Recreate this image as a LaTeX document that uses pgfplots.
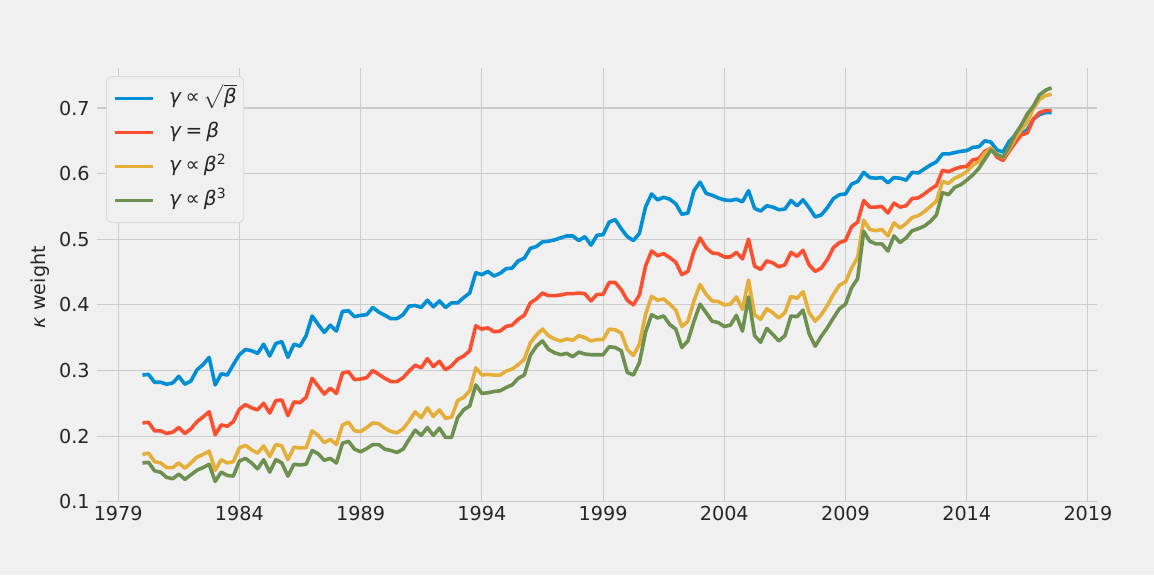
\documentclass[border=0pt]{standalone}
\usepackage{fontspec}
\setmainfont{DejaVu Sans}
\usepackage{pgfplots}
\usepackage{pgfplotstable}
\pgfplotsset{compat=1.18}
\definecolor{bgc}{HTML}{F0F0F0}
\definecolor{gridc}{HTML}{CBCBCB}
\definecolor{legc}{HTML}{DADADA}
\definecolor{cblue}{HTML}{008FD5}
\definecolor{cred}{HTML}{FC4F30}
\definecolor{cyel}{HTML}{E5AE38}
\definecolor{cgrn}{HTML}{6D904F}
\newcommand{\lsp}{\hspace{0.2em}}

\pgfplotstableread{
year B R Y G
1980.00 0.293 0.220 0.172 0.159
1980.25 0.294 0.221 0.174 0.160
1980.50 0.282 0.208 0.161 0.147
1980.75 0.282 0.208 0.159 0.145
1981.00 0.279 0.204 0.152 0.137
1981.25 0.281 0.206 0.152 0.135
1981.50 0.291 0.213 0.159 0.142
1981.75 0.279 0.204 0.151 0.134
1982.00 0.284 0.211 0.159 0.141
1982.25 0.301 0.222 0.168 0.148
1982.50 0.309 0.229 0.172 0.152
1982.75 0.320 0.237 0.177 0.157
1983.00 0.278 0.202 0.148 0.131
1983.25 0.295 0.217 0.164 0.145
1983.50 0.293 0.215 0.159 0.140
1983.75 0.309 0.222 0.161 0.139
1984.00 0.324 0.241 0.182 0.162
1984.25 0.332 0.248 0.186 0.166
1984.50 0.330 0.243 0.179 0.159
1984.75 0.326 0.240 0.174 0.150
1985.00 0.340 0.250 0.185 0.164
1985.25 0.322 0.235 0.169 0.145
1985.50 0.341 0.254 0.187 0.164
1985.75 0.344 0.255 0.185 0.159
1986.00 0.320 0.231 0.164 0.139
1986.25 0.340 0.252 0.183 0.157
1986.50 0.337 0.251 0.182 0.156
1986.75 0.353 0.259 0.182 0.157
1987.00 0.383 0.288 0.208 0.178
1987.25 0.370 0.276 0.201 0.173
1987.50 0.358 0.264 0.190 0.163
1987.75 0.369 0.273 0.195 0.166
1988.00 0.360 0.265 0.187 0.159
1988.25 0.390 0.296 0.217 0.189
1988.50 0.391 0.298 0.221 0.192
1988.75 0.382 0.286 0.208 0.180
1989.00 0.384 0.287 0.207 0.176
1989.25 0.385 0.289 0.213 0.181
1989.50 0.396 0.300 0.220 0.187
1989.75 0.389 0.294 0.219 0.187
1990.00 0.384 0.288 0.212 0.180
1990.25 0.379 0.283 0.207 0.178
1990.50 0.379 0.283 0.205 0.175
1990.75 0.385 0.289 0.211 0.180
1991.00 0.398 0.299 0.223 0.195
1991.25 0.399 0.308 0.237 0.209
1991.50 0.396 0.304 0.228 0.201
1991.75 0.407 0.318 0.243 0.213
1992.00 0.397 0.306 0.230 0.201
1992.25 0.406 0.314 0.240 0.212
1992.50 0.396 0.301 0.227 0.198
1992.75 0.403 0.307 0.229 0.198
1993.00 0.403 0.317 0.254 0.228
1993.25 0.411 0.322 0.259 0.240
1993.50 0.418 0.330 0.269 0.246
1993.75 0.449 0.368 0.304 0.278
1994.00 0.446 0.363 0.293 0.265
1994.25 0.451 0.365 0.294 0.266
1994.50 0.444 0.359 0.293 0.268
1994.75 0.448 0.360 0.293 0.269
1995.00 0.455 0.367 0.299 0.274
1995.25 0.456 0.369 0.302 0.278
1995.50 0.467 0.378 0.309 0.288
1995.75 0.471 0.384 0.317 0.293
1996.00 0.486 0.403 0.342 0.323
1996.25 0.489 0.409 0.354 0.337
1996.50 0.496 0.418 0.363 0.345
1996.75 0.497 0.414 0.353 0.332
1997.00 0.499 0.414 0.348 0.327
1997.25 0.502 0.415 0.345 0.324
1997.50 0.505 0.417 0.348 0.326
1997.75 0.505 0.417 0.346 0.321
1998.00 0.498 0.418 0.353 0.328
1998.25 0.504 0.417 0.350 0.325
1998.50 0.491 0.406 0.345 0.324
1998.75 0.506 0.416 0.347 0.324
1999.00 0.507 0.416 0.347 0.324
1999.25 0.526 0.434 0.363 0.336
1999.50 0.530 0.434 0.362 0.335
1999.75 0.516 0.423 0.357 0.330
2000.00 0.504 0.407 0.332 0.297
2000.25 0.498 0.400 0.323 0.293
2000.50 0.509 0.415 0.340 0.312
2000.75 0.549 0.459 0.385 0.358
2001.00 0.569 0.482 0.413 0.385
2001.25 0.560 0.475 0.407 0.380
2001.50 0.564 0.478 0.409 0.383
2001.75 0.561 0.472 0.401 0.370
2002.00 0.554 0.465 0.392 0.363
2002.25 0.538 0.446 0.367 0.335
2002.50 0.540 0.451 0.375 0.345
2002.75 0.574 0.482 0.406 0.375
2003.00 0.587 0.502 0.431 0.401
2003.25 0.570 0.487 0.416 0.388
2003.50 0.567 0.479 0.406 0.375
2003.75 0.563 0.478 0.405 0.373
2004.00 0.560 0.473 0.400 0.367
2004.25 0.559 0.473 0.401 0.369
2004.50 0.561 0.480 0.412 0.384
2004.75 0.557 0.470 0.393 0.360
2005.00 0.574 0.500 0.438 0.412
2005.25 0.547 0.459 0.385 0.353
2005.50 0.543 0.454 0.378 0.343
2005.75 0.551 0.467 0.394 0.364
2006.00 0.549 0.464 0.388 0.355
2006.25 0.545 0.458 0.380 0.345
2006.50 0.546 0.461 0.388 0.353
2006.75 0.559 0.480 0.413 0.383
2007.00 0.551 0.474 0.410 0.382
2007.25 0.560 0.483 0.420 0.392
2007.50 0.548 0.461 0.388 0.356
2007.75 0.534 0.451 0.375 0.337
2008.00 0.537 0.456 0.385 0.352
2008.25 0.548 0.469 0.399 0.365
2008.50 0.562 0.487 0.416 0.380
2008.75 0.568 0.495 0.430 0.394
2009.00 0.569 0.498 0.435 0.401
2009.25 0.584 0.519 0.456 0.426
2009.50 0.588 0.526 0.472 0.440
2009.75 0.602 0.559 0.529 0.512
2010.00 0.594 0.549 0.515 0.497
2010.25 0.593 0.549 0.513 0.493
2010.50 0.594 0.550 0.515 0.493
2010.75 0.586 0.540 0.505 0.482
2011.00 0.594 0.555 0.525 0.505
2011.25 0.593 0.549 0.517 0.495
2011.50 0.590 0.551 0.524 0.502
2011.75 0.602 0.562 0.533 0.513
2012.00 0.601 0.563 0.536 0.516
2012.25 0.607 0.569 0.542 0.520
2012.50 0.613 0.576 0.550 0.527
2012.75 0.618 0.582 0.558 0.537
2013.00 0.630 0.605 0.588 0.571
2013.25 0.630 0.603 0.585 0.568
2013.50 0.632 0.607 0.593 0.579
2013.75 0.634 0.610 0.597 0.583
2014.00 0.635 0.611 0.603 0.590
2014.25 0.640 0.621 0.613 0.598
2014.50 0.641 0.623 0.618 0.608
2014.75 0.650 0.634 0.631 0.622
2015.00 0.648 0.639 0.639 0.636
2015.25 0.636 0.625 0.629 0.629
2015.50 0.633 0.620 0.624 0.625
2015.75 0.649 0.634 0.637 0.641
2016.00 0.658 0.647 0.654 0.660
2016.25 0.660 0.659 0.667 0.674
2016.50 0.667 0.662 0.679 0.691
2016.75 0.683 0.683 0.699 0.703
2017.00 0.690 0.693 0.713 0.720
2017.25 0.693 0.696 0.719 0.727
2017.50 0.693 0.696 0.721 0.731
}\kdata

\begin{document}
\begin{tikzpicture}
\fill[bgc] (-48.5pt,-36.5pt) rectangle (528.5pt,251pt);
\begin{axis}[
  at={(0pt,0pt)}, anchor=south west,
  scale only axis, width=500pt, height=217pt,
  xmin=1978.125, xmax=2019.375, ymin=0.0995, ymax=0.761,
  axis line style={draw=none},
  grid=major,
  major grid style={color=gridc, line width=0.55pt},
  major tick length=0pt,
  xtick={1979,1984,1989,1994,1999,2004,2009,2014,2019},
  xticklabels={1979,1984,1989,1994,1999,2004,2009,2014,2019},
  ytick={0.1,0.2,0.3,0.4,0.5,0.6,0.7},
  yticklabels={0.1,0.2,0.3,0.4,0.5,0.6,0.7},
  tick label style={font=\fontsize{9.6}{11}\selectfont, text=black!85},
  xticklabel style={inner sep=1pt, yshift=-1pt},
  yticklabel style={inner sep=1pt, xshift=-2.5pt},
  ylabel={\textit{κ} weight},
  ylabel style={at={(axis description cs:-0.057,0.495)}, anchor=center, font=\fontsize{9.6}{11}\selectfont, text=black!85},
  legend cell align=left,
  legend image code/.code={\draw[#1] (0pt,0pt) -- (19pt,0pt);},
  legend style={at={(0.009,0.981)}, anchor=north west, draw=legc, fill=bgc,
    rounded corners=3pt, font=\fontsize{10}{12}\selectfont, text=black!85,
    inner xsep=3.5pt, inner ysep=5.5pt, row sep=6pt,
    /tikz/every odd column/.style={column sep=7pt},
    nodes={inner xsep=0pt, inner ysep=0pt, text height=8pt, text depth=3pt}},
  every axis plot/.append style={line width=1.8pt, line join=round},
]
\addplot[cblue] table[x=year, y=B] {\kdata};
\addlegendentry{\textit{γ}\lsp∝\lsp$\sqrt{\hbox{\textit{β}}}$}
\addplot[cred] table[x=year, y=R] {\kdata};
\addlegendentry{\textit{γ}\lsp=\lsp\textit{β}}
\addplot[cyel] table[x=year, y=Y] {\kdata};
\addlegendentry{\textit{γ}\lsp∝\lsp\textit{β}\textsuperscript{2}}
\addplot[cgrn] table[x=year, y=G] {\kdata};
\addlegendentry{\textit{γ}\lsp∝\lsp\textit{β}\textsuperscript{3}}
\end{axis}
\end{tikzpicture}
\end{document}
